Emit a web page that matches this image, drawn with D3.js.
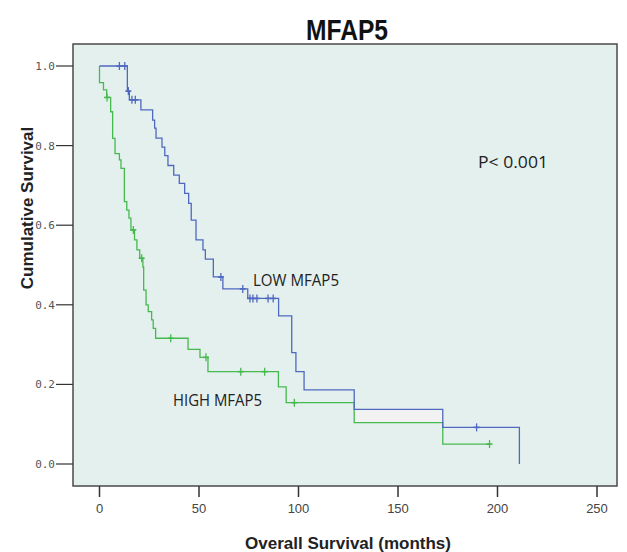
<!DOCTYPE html>
<html>
<head>
<meta charset="utf-8">
<script src="https://cdn.jsdelivr.net/npm/d3@7"></script>
<style>
  body { margin: 0; background: #fff; }
  svg { display: block; }
</style>
</head>
<body>
<svg id="km" width="627" height="552"></svg>
<script>
// Kaplan-Meier steps (months, cumulative survival)
const lowTimes = [0, 14, 15, 20.8, 26.7, 27.7, 28.4, 31.4, 32.8, 34.4, 37.3, 40.1, 42.8, 44.8, 46.1, 48.5, 52, 53.2, 57.2, 62, 74.5, 90, 96.6, 98.7, 102.8, 128, 172.5, 211];
const lowSurv  = [1.0, 0.937, 0.915, 0.89, 0.864, 0.844, 0.819, 0.796, 0.775, 0.75, 0.726, 0.705, 0.68, 0.655, 0.613, 0.563, 0.538, 0.515, 0.47, 0.44, 0.416, 0.372, 0.28, 0.232, 0.186, 0.137, 0.092, 0.0];
const lowCensor = [10, 12.7, 14.5, 16.3, 18, 61, 72, 75.6, 77.1, 79.1, 84.7, 87.3, 189.5];

const highTimes = [0, 0, 2, 3.6, 5.6, 6.6, 7.8, 10, 10.8, 12.5, 13.7, 14.8, 15.8, 17.6, 18.8, 20.2, 21.8, 22.2, 23.4, 24.5, 26.2, 27, 28.2, 44.5, 50.5, 54.5, 89.9, 93.8, 128, 172.5];
const highSurv  = [1.0, 0.958, 0.94, 0.921, 0.885, 0.818, 0.78, 0.764, 0.743, 0.659, 0.638, 0.618, 0.588, 0.563, 0.538, 0.517, 0.495, 0.437, 0.40, 0.383, 0.362, 0.341, 0.316, 0.288, 0.268, 0.232, 0.194, 0.154, 0.104, 0.05];
const highCensor = [3.8, 17, 21.2, 35.8, 53.5, 71, 83, 97.9, 196];

const xTicks = [0, 50, 100, 150, 200, 250];
const yTicks = [0, 0.2, 0.4, 0.6, 0.8, 1.0];

const svg = d3.select("#km");

const frame = {left: 73, top: 44, right: 617, bottom: 486};
const x = d3.scaleLinear().domain([0, 250]).range([99.5, 597]);
const y = d3.scaleLinear().domain([0, 1]).range([464, 66]);

const blue = "#4f68c0", green = "#46b94f";

// plot background
svg.append("rect")
    .attr("x", frame.left).attr("y", frame.top)
    .attr("width", frame.right - frame.left).attr("height", frame.bottom - frame.top)
    .style("fill", "#e4f0ee").style("stroke", "#4a4a4a").style("stroke-width", 1.5);

// odd grey patch between the two tails
svg.append("rect")
    .attr("x", x(128)).attr("y", y(lowSurv[25]))
    .attr("width", x(172.5) - x(128)).attr("height", y(highSurv[28]) - y(lowSurv[25]))
    .style("fill", "#f2f2f2");

// y axis
svg.append("g").selectAll("line").data(yTicks).join("line")
    .attr("x1", 56).attr("x2", frame.left)
    .attr("y1", d => y(d)).attr("y2", d => y(d))
    .style("stroke", "#333").style("stroke-width", 1.2);
svg.append("g").selectAll("text").data(yTicks).join("text")
    .attr("x", 55).attr("y", d => y(d) + 4)
    .attr("text-anchor", "end")
    .style("font-family", "DejaVu Sans Mono").style("font-size", "11px").style("fill", "#555")
    .text(d => d3.format(".1f")(d));

// x axis
svg.append("g").selectAll("line").data(xTicks).join("line")
    .attr("x1", d => x(d)).attr("x2", d => x(d))
    .attr("y1", frame.bottom).attr("y2", 497)
    .style("stroke", "#333").style("stroke-width", 1.5);
svg.append("g").selectAll("text").data(xTicks).join("text")
    .attr("x", d => x(d)).attr("y", 513)
    .attr("text-anchor", "middle")
    .style("font-family", "Liberation Sans, Arial").style("font-size", "13px").style("fill", "#444")
    .text(d => d);

// survival curves
function stepFn(times, surv) {
    return function(t) {
        let s = surv[0];
        for (let i = 0; i < times.length; i++) if (times[i] <= t) s = surv[i];
        return s;
    };
}
const line = d3.line().x(d => x(d[0])).y(d => y(d[1])).curve(d3.curveStepAfter);

function drawCurve(times, surv, censor, color) {
    const pts = times.map((t, i) => [t, surv[i]]);
    // carry the last level out to the last censored case
    const lastC = d3.max(censor);
    if (lastC > times[times.length - 1]) pts.push([lastC, surv[surv.length - 1]]);
    svg.append("path")
        .datum(pts)
        .attr("d", line)
        .style("fill", "none").style("stroke", color).style("stroke-width", 1.3);
    const f = stepFn(times, surv);
    const g = svg.append("g");
    g.selectAll("line.v").data(censor).join("line")
        .attr("class", "v")
        .attr("x1", d => x(d)).attr("x2", d => x(d))
        .attr("y1", d => y(f(d)) - 4).attr("y2", d => y(f(d)) + 4)
        .style("stroke", color).style("stroke-width", 1.3);
    g.selectAll("line.h").data(censor).join("line")
        .attr("class", "h")
        .attr("x1", d => x(d) - 3).attr("x2", d => x(d) + 3)
        .attr("y1", d => y(f(d))).attr("y2", d => y(f(d)))
        .style("stroke", color).style("stroke-width", 1.6);
}
drawCurve(highTimes, highSurv, highCensor, green);
drawCurve(lowTimes, lowSurv, lowCensor, blue);

// labels
svg.append("text").text("MFAP5")
    .attr("x", 347).attr("y", 40).attr("text-anchor", "middle")
    .attr("textLength", 82).attr("lengthAdjust", "spacingAndGlyphs")
    .style("font-family", "Liberation Sans, Arial").style("font-weight", "bold").style("font-size", "30px").style("fill", "#111");

svg.append("text").text("LOW MFAP5")
    .attr("x", 253).attr("y", 286)
    .attr("textLength", 86).attr("lengthAdjust", "spacingAndGlyphs")
    .style("font-family", "Open Sans").style("font-size", "16px").style("fill", "#222");
svg.append("text").text("HIGH MFAP5")
    .attr("x", 173).attr("y", 406)
    .attr("textLength", 89).attr("lengthAdjust", "spacingAndGlyphs")
    .style("font-family", "Open Sans").style("font-size", "16px").style("fill", "#222");
svg.append("text").text("P< 0.001")
    .attr("x", 478).attr("y", 168)
    .attr("textLength", 70).attr("lengthAdjust", "spacingAndGlyphs")
    .style("font-family", "Open Sans").style("font-size", "17px").style("fill", "#222");

svg.append("text").text("Overall Survival (months)")
    .attr("x", 348).attr("y", 549).attr("text-anchor", "middle")
    .style("font-family", "Liberation Sans, Arial").style("font-weight", "bold").style("font-size", "17px").style("fill", "#222");
svg.append("text").text("Cumulative Survival")
    .attr("x", -208).attr("y", 33).attr("transform", "rotate(-90)").attr("text-anchor", "middle")
    .style("font-family", "Liberation Sans, Arial").style("font-weight", "bold").style("font-size", "17px").style("fill", "#222");
</script>
</body>
</html>
